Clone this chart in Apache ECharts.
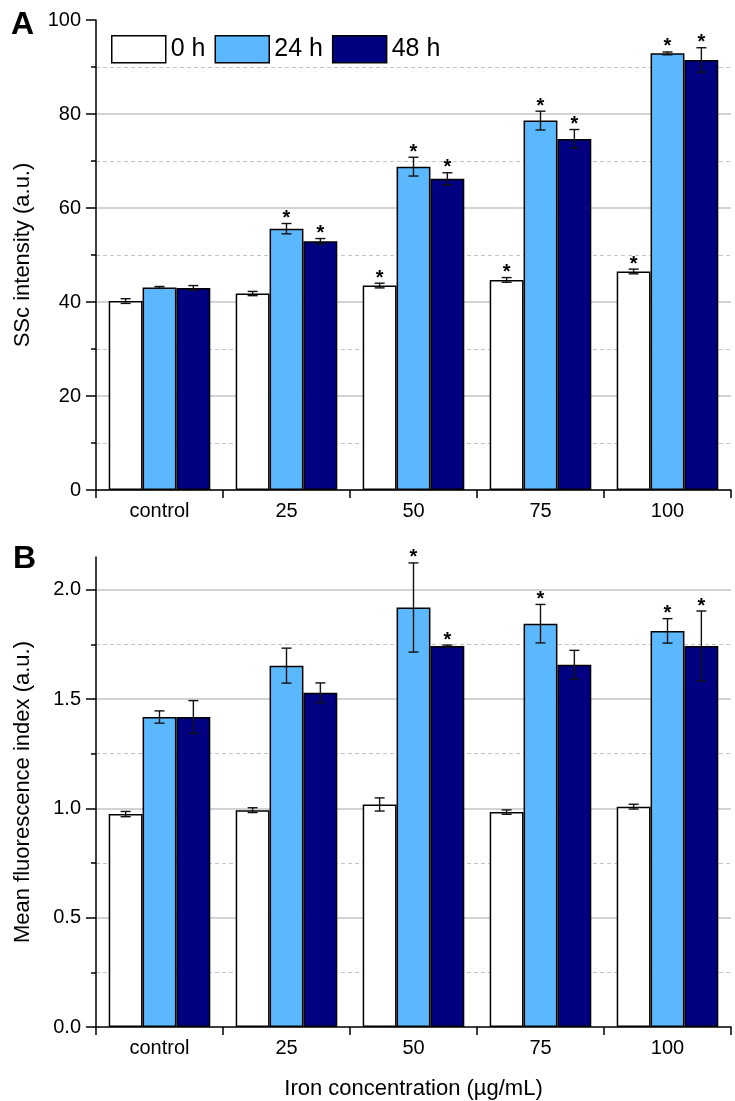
<!DOCTYPE html>
<html>
<head>
<meta charset="utf-8">
<script src="https://cdn.jsdelivr.net/npm/echarts@6/dist/echarts.min.js"></script>
<style>
  html, body { margin: 0; padding: 0; background: #fff; }
  #chart { width: 735px; height: 1101px; }
</style>
</head>
<body>
<div id="chart"></div>
<script>
// categories and series values
const categories = ['control', '25', '50', '75', '100'];
const seriesNames = ['0 h', '24 h', '48 h'];

// panel A: SSc intensity
const ssc0h = [40.2, 41.8, 43.5, 44.7, 46.5];
const ssc0hErr = [0.5, 0.45, 0.5, 0.5, 0.5];
const ssc24h = [43.1, 55.6, 68.8, 78.6, 92.9];
const ssc24hErr = [0.2, 1.1, 2.0, 2.0, 0.3];
const ssc48h = [43.0, 52.9, 66.2, 74.7, 91.5];
const ssc48hErr = [0.5, 0.6, 1.3, 2.0, 2.6];
const ssc0hSig = [0, 0, 1, 1, 1];
const ssc24hSig = [0, 1, 1, 1, 1];
const ssc48hSig = [0, 1, 1, 1, 1];

// panel B: mean fluorescence index
const mfi0h = [0.974, 0.992, 1.018, 0.983, 1.008];
const mfi0hErr = [0.012, 0.011, 0.03, 0.01, 0.011];
const mfi24h = [1.418, 1.653, 1.919, 1.845, 1.812];
const mfi24hErr = [0.028, 0.08, 0.204, 0.088, 0.056];
const mfi48h = [1.418, 1.529, 1.743, 1.657, 1.743];
const mfi48hErr = [0.075, 0.045, 0.004, 0.066, 0.16];
const mfi0hSig = [0, 0, 0, 0, 0];
const mfi24hSig = [0, 0, 1, 1, 1];
const mfi48hSig = [0, 0, 1, 0, 1];

const mfiTicks = [0, 0.5, 1.0, 1.5, 2.0];
const mfiMinorTicks = [0.25, 0.75, 1.25, 1.75];

const FONT = 'Liberation Sans, Arial, sans-serif';
const colors = ['#ffffff', '#5cb8fd', '#000080'];

let chart = echarts.init(document.getElementById('chart'), null, { renderer: 'canvas' });

function barSeries(name, values, gi, k) {
    return {
        name: name,
        type: 'bar',
        xAxisIndex: gi,
        yAxisIndex: gi === 0 ? 0 : 1,
        data: values,
        barGap: '0%',
        barCategoryGap: '20%',
        itemStyle: { color: colors[k], borderColor: '#000', borderWidth: 1.5 },
        emphasis: { disabled: true }
    };
}

// error bars + significance stars, placed on the bar of series k
function errSeries(name, values, errs, sig, gi, k) {
    return {
        name: name,
        type: 'custom',
        xAxisIndex: gi,
        yAxisIndex: gi === 0 ? 0 : 1,
        z: 5,
        data: values.map((v, i) => [i, v, errs[i], sig[i]]),
        encode: { x: 0, y: 1 },
        renderItem: function (params, api) {
            const ci = api.value(0), m = api.value(1), e = api.value(2), s = api.value(3);
            const bw = api.size([1, 0])[0] * 0.8 / 3;
            const off = (k - 1) * bw;
            const hi = api.coord([ci, m + e]);
            const lo = api.coord([ci, m - e]);
            const x = hi[0] + off;
            const st = { stroke: '#111', lineWidth: 1.4 };
            const children = [
                { type: 'line', shape: { x1: x, y1: hi[1], x2: x, y2: lo[1] }, style: st },
                { type: 'line', shape: { x1: x - 5, y1: hi[1], x2: x + 5, y2: hi[1] }, style: st },
                { type: 'line', shape: { x1: x - 5, y1: lo[1], x2: x + 5, y2: lo[1] }, style: st }
            ];
            if (s) {
                children.push({
                    type: 'text',
                    style: {
                        text: '*', x: x, y: hi[1] - 15,
                        align: 'center', verticalAlign: 'top',
                        font: 'bold 20px ' + FONT, fill: '#000'
                    }
                });
            }
            return { type: 'group', children: children };
        }
    };
}

const axisLineStyle = { color: '#000', width: 1.5 };
const labelStyle = { color: '#000', fontSize: 20, fontFamily: FONT };

let option = {
    animation: false,
    backgroundColor: '#fff',
    title: [
        { text: 'A', left: 6, top: 4, textStyle: { fontSize: 32, fontWeight: 'bold', fontFamily: FONT, color: '#000' } },
        { text: 'B', left: 8, top: 538, textStyle: { fontSize: 32, fontWeight: 'bold', fontFamily: FONT, color: '#000' } }
    ],
    legend: {
        data: seriesNames,
        left: 106, top: 30,
        itemWidth: 54, itemHeight: 27, itemGap: 9,
        icon: 'rect',
        itemStyle: { borderColor: '#000', borderWidth: 1.5 },
        textStyle: { fontSize: 25, fontFamily: FONT, color: '#000' }
    },
    grid: [
        { left: 96, right: 4, top: 20, height: 470 },
        { left: 96, right: 4, top: 557, height: 470 }
    ],
    xAxis: [0, 1].map(gi => ({
        type: 'category',
        gridIndex: gi,
        data: categories,
        axisLine: { lineStyle: axisLineStyle },
        axisTick: { show: true, length: 8, lineStyle: axisLineStyle },
        axisLabel: Object.assign({ margin: 11 }, labelStyle),
        name: gi === 1 ? 'Iron concentration (\u00b5g/mL)' : '',
        nameLocation: 'middle',
        nameGap: 51,
        nameTextStyle: { fontSize: 22, fontFamily: FONT, color: '#000' }
    })),
    yAxis: [
        {
            type: 'value', gridIndex: 0, min: 0, max: 100, interval: 20,
            name: 'SSc intensity (a.u.)', nameLocation: 'middle', nameGap: 62,
            nameTextStyle: { fontSize: 22, fontFamily: FONT, color: '#000' },
            axisLine: { show: true, lineStyle: axisLineStyle },
            axisTick: { show: true, length: 10, lineStyle: axisLineStyle },
            minorTick: { show: true, splitNumber: 2, length: 5, lineStyle: { color: '#000', width: 1.5 } },
            axisLabel: Object.assign({ margin: 15 }, labelStyle),
            splitLine: { show: true, showMaxLine: false, lineStyle: { color: '#c4c4c4', width: 1.5 } },
            minorSplitLine: { show: true, lineStyle: { color: '#c4c4c4', width: 1, type: [4, 3] } }
        },
        {
            type: 'value', gridIndex: 1, min: 0, max: 2.15, position: 'left',
            name: 'Mean fluorescence index (a.u.)', nameLocation: 'middle', nameGap: 62,
            nameTextStyle: { fontSize: 22, fontFamily: FONT, color: '#000' },
            axisLine: { show: true, lineStyle: axisLineStyle },
            axisTick: { show: true, length: 10, customValues: mfiTicks, lineStyle: axisLineStyle },
            axisLabel: Object.assign({ margin: 15, customValues: mfiTicks, formatter: v => v.toFixed(1) }, labelStyle),
            splitLine: { show: true, showMinLine: false, lineStyle: { color: '#c4c4c4', width: 1.5 } }
        },
        {
            type: 'value', gridIndex: 1, min: 0, max: 2.15, position: 'left',
            axisLine: { show: false },
            axisTick: { show: true, length: 5, customValues: mfiMinorTicks, lineStyle: axisLineStyle },
            axisLabel: { show: false },
            splitLine: { show: true, lineStyle: { color: '#c4c4c4', width: 1, type: [4, 3] } }
        }
    ],
    series: [
        barSeries(seriesNames[0], ssc0h, 0, 0),
        barSeries(seriesNames[1], ssc24h, 0, 1),
        barSeries(seriesNames[2], ssc48h, 0, 2),
        barSeries(seriesNames[0], mfi0h, 1, 0),
        barSeries(seriesNames[1], mfi24h, 1, 1),
        barSeries(seriesNames[2], mfi48h, 1, 2),
        errSeries(seriesNames[0], ssc0h, ssc0hErr, ssc0hSig, 0, 0),
        errSeries(seriesNames[1], ssc24h, ssc24hErr, ssc24hSig, 0, 1),
        errSeries(seriesNames[2], ssc48h, ssc48hErr, ssc48hSig, 0, 2),
        errSeries(seriesNames[0], mfi0h, mfi0hErr, mfi0hSig, 1, 0),
        errSeries(seriesNames[1], mfi24h, mfi24hErr, mfi24hSig, 1, 1),
        errSeries(seriesNames[2], mfi48h, mfi48hErr, mfi48hSig, 1, 2)
    ]
};

option && chart.setOption(option);
</script>
</body>
</html>
